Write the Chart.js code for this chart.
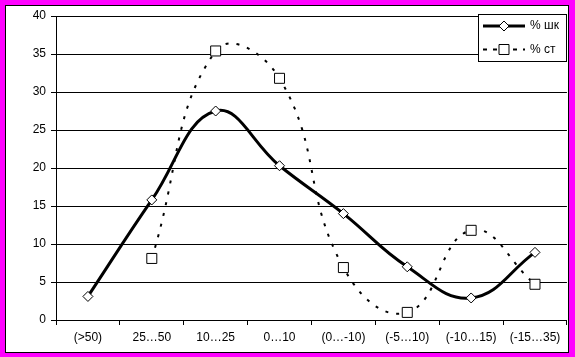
<!DOCTYPE html>
<html>
<head>
<meta charset="utf-8">
<script src="https://cdn.jsdelivr.net/npm/chart.js@4"></script>
<style>
html,body{margin:0;padding:0;background:#fff;}
#wrap{position:absolute;left:0;top:0;width:575px;height:357px;}
</style>
</head>
<body>
<div id="wrap"><canvas id="c" width="575" height="357"></canvas></div>
<script>
const categories = ['(>50)', '25…50', '10…25', '0…10', '(0…-10)', '(-5…10)', '(-10…15)', '(-15…35)'];
const shkLabel = '% шк';
const stLabel = '% ст';
const shkValues = [3.1, 15.8, 27.5, 20.3, 14.0, 7.0, 2.9, 8.9];
const stValues = [null, 8.1, 35.4, 31.8, 6.9, 1.0, 11.8, 4.7];
const yMin = 0, yMax = 40, yStep = 5;

Chart.defaults.font.family = "'Liberation Sans', Arial, sans-serif";
Chart.defaults.font.size = 12;
Chart.defaults.color = '#000';

const framePlugin = {
  id: 'frame',
  beforeDraw(chart) {
    const ctx = chart.ctx;
    ctx.save();
    ctx.fillStyle = '#FF00FF';
    ctx.fillRect(0, 0, 575, 357);
    ctx.fillStyle = '#FFFFFF';
    ctx.fillRect(5, 5, 564, 348);
    ctx.strokeStyle = '#000';
    ctx.lineWidth = 1;
    ctx.strokeRect(5.5, 5.5, 563, 347);
    ctx.restore();
  }
};

const legendPlugin = {
  id: 'boxLegend',
  afterDraw(chart) {
    const ctx = chart.ctx;
    ctx.save();
    ctx.fillStyle = '#fff';
    ctx.fillRect(478, 14, 88, 47);
    ctx.strokeStyle = '#000';
    ctx.lineWidth = 1;
    ctx.strokeRect(478.5, 14.5, 88, 47);
    const rows = [
      {y: 26, ds: chart.data.datasets[0], dash: [], width: 3, pt: 'rectRot', r: 5},
      {y: 49.5, ds: chart.data.datasets[1], dash: [4, 6], width: 2, pt: 'rect', r: 7.07}
    ];
    rows.forEach(row => {
      ctx.save();
      ctx.strokeStyle = '#000';
      ctx.lineWidth = row.width;
      ctx.setLineDash(row.dash);
      ctx.beginPath();
      ctx.moveTo(483, row.y);
      ctx.lineTo(525, row.y);
      ctx.stroke();
      ctx.restore();
      ctx.save();
      ctx.fillStyle = '#fff';
      ctx.strokeStyle = '#000';
      ctx.lineWidth = 1;
      Chart.helpers.drawPoint(ctx, {pointStyle: row.pt, radius: row.r, borderWidth: 1}, 504, row.y);
      ctx.restore();
      ctx.fillStyle = '#000';
      ctx.font = "12px 'Liberation Sans', Arial, sans-serif";
      ctx.textBaseline = 'middle';
      ctx.textAlign = 'left';
      ctx.fillText(row.ds.label, 530, row.y);
    });
    ctx.restore();
  }
};

new Chart(document.getElementById('c'), {
  type: 'line',
  data: {
    labels: categories,
    datasets: [
      {
        label: shkLabel,
        data: shkValues,
        borderColor: '#000',
        borderWidth: 3,
        tension: 0.42,
        pointStyle: 'rectRot',
        pointRadius: 5,
        pointBorderWidth: 1,
        pointBackgroundColor: '#fff',
        pointBorderColor: '#000',
        fill: false
      },
      {
        label: stLabel,
        data: stValues,
        borderColor: '#000',
        borderWidth: 2,
        borderDash: [3, 8],
        tension: 0.45,
        pointStyle: 'rect',
        pointRadius: 7.07,
        pointBorderWidth: 1,
        pointBackgroundColor: '#fff',
        pointBorderColor: '#000',
        fill: false
      }
    ]
  },
  options: {
    responsive: false,
    animation: false,
    devicePixelRatio: 1,
    layout: {padding: {left: 0, top: 16, right: 7, bottom: 0}},
    plugins: {legend: {display: false}, tooltip: {enabled: false}},
    elements: {point: {hoverRadius: 0}},
    scales: {
      x: {
        type: 'category',
        offset: true,
        grid: {offset: true, drawOnChartArea: false, drawTicks: true, tickLength: 5, color: '#000', lineWidth: 1},
        border: {display: true, color: '#000', width: 1},
        ticks: {padding: 5, color: '#000', maxRotation: 0, autoSkip: false, font: {size: 12}},
        afterFit(scale) { scale.height = 37; }
      },
      y: {
        min: yMin,
        max: yMax,
        ticks: {stepSize: yStep, padding: 5, color: '#000', font: {size: 12}},
        grid: {color: '#000', lineWidth: 1, drawTicks: true, tickLength: 5},
        border: {display: true, color: '#000', width: 1},
        afterFit(scale) { scale.width = 56; }
      }
    }
  },
  plugins: [framePlugin, legendPlugin]
});
</script>
</body>
</html>
